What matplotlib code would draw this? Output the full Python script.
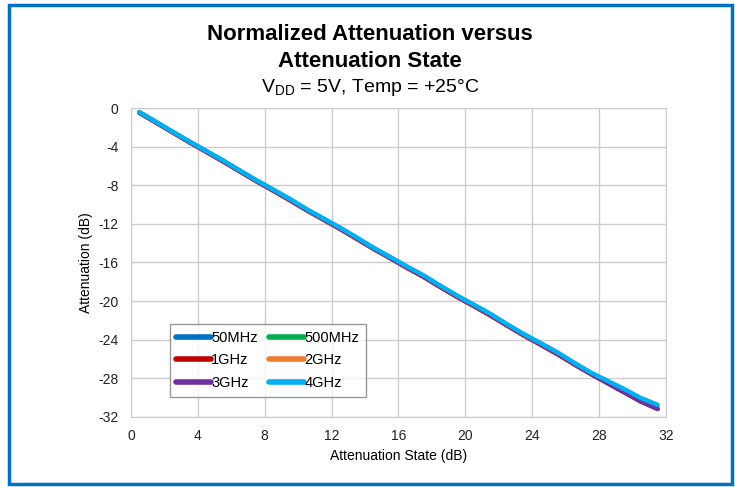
import numpy as np
import matplotlib
matplotlib.use("Agg")
from matplotlib import pyplot as plt
from matplotlib.patches import Rectangle

plt.rcParams['font.family'] = ['Liberation Sans', 'DejaVu Sans']
plt.rcParams['mathtext.fontset'] = 'custom'
plt.rcParams['mathtext.rm'] = 'Liberation Sans'
plt.rcParams['axes.unicode_minus'] = False

# attenuation state (dB)
state = [0.5, 1.5, 2.5, 3.5, 4.5, 5.5, 6.5, 7.5, 8.5, 9.5, 10.5, 11.5, 12.5, 13.5, 14.5, 15.5,
         16.5, 17.5, 18.5, 19.5, 20.5, 21.5, 22.5, 23.5, 24.5, 25.5, 26.5, 27.5, 28.5, 29.5, 30.5, 31.5]

att_50mhz = [-0.45, -1.47, -2.50, -3.52, -4.50, -5.47, -6.52, -7.55, -8.52, -9.50, -10.55, -11.50,
             -12.48, -13.50, -14.55, -15.52, -16.50, -17.45, -18.50, -19.52, -20.47, -21.45, -22.50,
             -23.52, -24.48, -25.45, -26.50, -27.52, -28.45, -29.40, -30.35, -31.10]
att_500mhz = [-0.46, -1.48, -2.50, -3.53, -4.51, -5.49, -6.53, -7.56, -8.53, -9.51, -10.56, -11.52,
              -12.49, -13.52, -14.56, -15.53, -16.51, -17.47, -18.52, -19.54, -20.49, -21.47, -22.52,
              -23.54, -24.50, -25.47, -26.52, -27.54, -28.47, -29.42, -30.37, -31.12]
att_1ghz = [-0.48, -1.50, -2.52, -3.55, -4.53, -5.52, -6.55, -7.58, -8.55, -9.55, -10.58, -11.55,
            -12.52, -13.55, -14.58, -15.55, -16.55, -17.50, -18.55, -19.57, -20.52, -21.50, -22.55,
            -23.57, -24.52, -25.50, -26.55, -27.55, -28.50, -29.45, -30.40, -31.15]
att_2ghz = [-0.44, -1.45, -2.48, -3.50, -4.48, -5.46, -6.50, -7.52, -8.49, -9.47, -10.52, -11.48,
            -12.45, -13.47, -14.52, -15.49, -16.47, -17.42, -18.47, -19.49, -20.44, -21.42, -22.47,
            -23.49, -24.44, -25.41, -26.46, -27.48, -28.40, -29.35, -30.30, -31.05]
att_3ghz = [-0.46, -1.47, -2.50, -3.51, -4.49, -5.47, -6.51, -7.53, -8.50, -9.48, -10.53, -11.49,
            -12.46, -13.48, -14.53, -15.50, -16.48, -17.43, -18.48, -19.50, -20.45, -21.43, -22.48,
            -23.50, -24.46, -25.43, -26.48, -27.52, -28.48, -29.45, -30.42, -31.20]
att_4ghz = [-0.42, -1.42, -2.45, -3.46, -4.43, -5.40, -6.45, -7.47, -8.43, -9.40, -10.46, -11.42,
            -12.38, -13.40, -14.46, -15.42, -16.40, -17.33, -18.40, -19.42, -20.36, -21.32, -22.40,
            -23.42, -24.35, -25.30, -26.38, -27.40, -28.26, -29.12, -30.05, -30.75]

series = [("50MHz", att_50mhz, "#0070C0"),
          ("500MHz", att_500mhz, "#00B050"),
          ("1GHz", att_1ghz, "#C00000"),
          ("2GHz", att_2ghz, "#ED7D31"),
          ("3GHz", att_3ghz, "#7030A0"),
          ("4GHz", att_4ghz, "#00B0F0")]

fig = plt.figure(figsize=(7.4, 4.87), dpi=100)
ax = fig.add_axes([0.177, 0.144, 0.723, 0.634])

lines = {}
for name, vals, col in series:
    ln, = ax.plot(state, vals, color=col, lw=3.2, solid_capstyle='round', label=name)
    lines[name] = ln

ax.set_xlim(0, 32)
ax.set_ylim(-32, 0)
ax.set_xticks(np.arange(0, 33, 4))
ax.set_yticks(np.arange(-32, 1, 4))
ax.grid(True, color='#CCCCCC', lw=1)
ax.set_axisbelow(True)
for s in ax.spines.values():
    s.set_color('#CCCCCC')
ax.tick_params(length=0, labelsize=10, colors='#222222', pad=9)
ax.set_xlabel("Attenuation State (dB)", fontsize=10, labelpad=4)
ax.set_ylabel("Attenuation (dB)", fontsize=10, labelpad=4)

# legend laid out row-wise like the original
order = ["50MHz", "1GHz", "3GHz", "500MHz", "2GHz", "4GHz"]
leg = ax.legend([lines[n] for n in order], order, ncol=2, loc='lower left',
                bbox_to_anchor=(0.072, 0.065), fontsize=10.5, frameon=True, fancybox=False,
                edgecolor='#808080', handlelength=2.4, handletextpad=0.0,
                columnspacing=0.8, labelspacing=0.6, borderpad=0.45, borderaxespad=0.0)
leg.get_frame().set_linewidth(1)
for h in leg.get_lines():
    h.set_linewidth(4)

fig.text(0.5, 0.929, "Normalized Attenuation versus", ha='center', va='center',
         fontsize=16, fontweight='bold')
fig.text(0.5, 0.874, "Attenuation State", ha='center', va='center',
         fontsize=16, fontweight='bold')
fig.text(0.5, 0.82, r"V$_{\mathregular{DD}}$ = 5V, Temp = +25°C", ha='center', va='center',
         fontsize=14)

fig.patches.append(Rectangle((0.012, 0.006), 0.977, 0.984, transform=fig.transFigure,
                             fill=False, edgecolor='#0070C0', lw=2.5))

fig.savefig("out.png", dpi=100)
